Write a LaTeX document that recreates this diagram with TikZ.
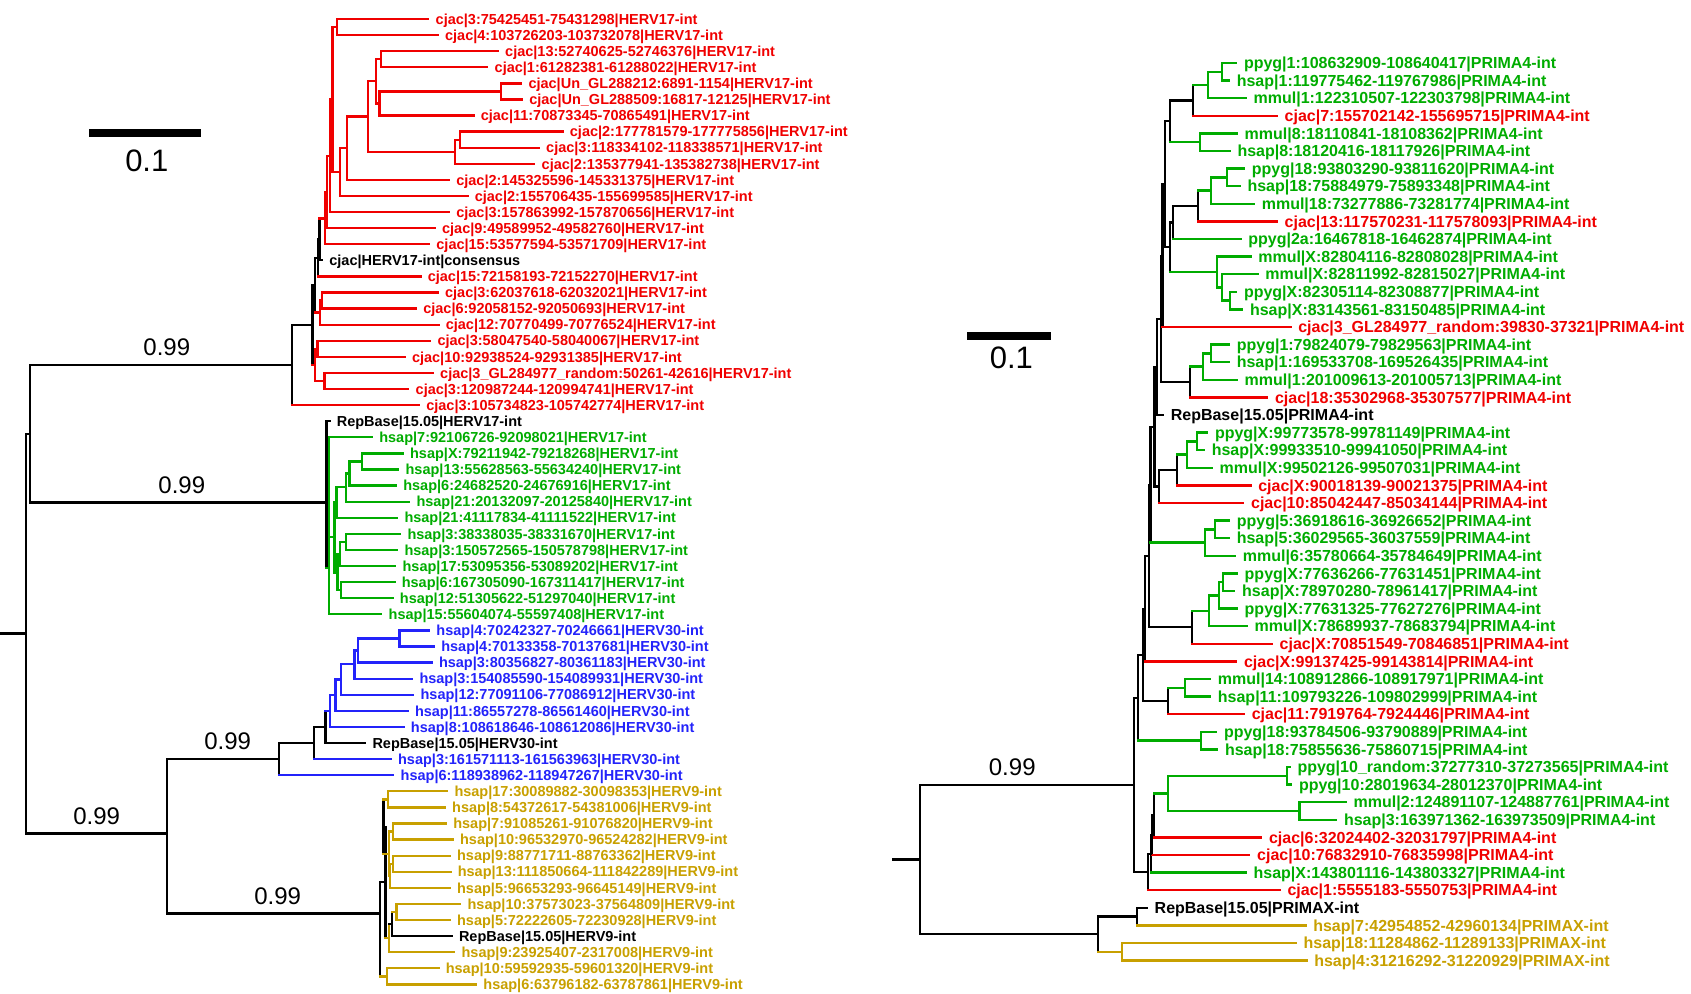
\documentclass[tikz,border=0pt]{standalone}
\usepackage{fontspec}
\setmainfont{Liberation Sans}
\definecolor{hred}{RGB}{240,0,0}
\definecolor{hgreen}{RGB}{0,172,0}
\definecolor{hblue}{RGB}{35,35,250}
\definecolor{hgold}{RGB}{200,160,0}
\tikzset{
  br/.style={line width=1.15pt,line cap=rect},
  ltip/.style={anchor=west,inner xsep=3.5pt,inner ysep=0pt,text height=5.2pt,text depth=0pt,
    font=\bfseries\fontsize{7.25}{8}\selectfont},
  rtip/.style={ltip,inner xsep=3.75pt,text height=5.76pt,font=\bfseries\fontsize{8}{9}\selectfont},
  pp/.style={font=\fontsize{12}{14}\selectfont,inner sep=0pt,anchor=south,yshift=4pt},
  scalelab/.style={font=\fontsize{15.5}{18}\selectfont,inner sep=0pt},
}
\begin{document}
\begin{tikzpicture}[x=0.5pt,y=-0.5pt]
  \useasboundingbox (0,0) rectangle (1691,994);
  % HERV17 / HERV30 / HERV9 tree, y in leaf rows
  \begin{scope}[y=-8.045pt,yshift=-1.455pt]
    \path
      (428.3, 1) node[ltip,hred]   (l1)  {cjac|3:75425451-75431298|HERV17-int}
      (437.7, 2) node[ltip,hred]   (l2)  {cjac|4:103726203-103732078|HERV17-int}
      (497.8, 3) node[ltip,hred]   (l3)  {cjac|13:52740625-52746376|HERV17-int}
      (487.3, 4) node[ltip,hred]   (l4)  {cjac|1:61282381-61288022|HERV17-int}
      (521.1, 5) node[ltip,hred]   (l5)  {cjac|Un\_GL288212:6891-1154|HERV17-int}
      (521.9, 6) node[ltip,hred]   (l6)  {cjac|Un\_GL288509:16817-12125|HERV17-int}
      (473.4, 7) node[ltip,hred]   (l7)  {cjac|11:70873345-70865491|HERV17-int}
      (562.5, 8) node[ltip,hred]   (l8)  {cjac|2:177781579-177775856|HERV17-int}
      (538.8, 9) node[ltip,hred]   (l9)  {cjac|3:118334102-118338571|HERV17-int}
      (534.3,10) node[ltip,hred]   (l10) {cjac|2:135377941-135382738|HERV17-int}
      (448.9,11) node[ltip,hred]   (l11) {cjac|2:145325596-145331375|HERV17-int}
      (467.4,12) node[ltip,hred]   (l12) {cjac|2:155706435-155699585|HERV17-int}
      (448.9,13) node[ltip,hred]   (l13) {cjac|3:157863992-157870656|HERV17-int}
      (434.7,14) node[ltip,hred]   (l14) {cjac|9:49589952-49582760|HERV17-int}
      (429.0,15) node[ltip,hred]   (l15) {cjac|15:53577594-53571709|HERV17-int}
      (322.0,16) node[ltip,black]  (l16) {cjac|HERV17-int|consensus}
      (420.4,17) node[ltip,hred]   (l17) {cjac|15:72158193-72152270|HERV17-int}
      (437.7,18) node[ltip,hred]   (l18) {cjac|3:62037618-62032021|HERV17-int}
      (415.9,19) node[ltip,hred]   (l19) {cjac|6:92058152-92050693|HERV17-int}
      (438.4,20) node[ltip,hred]   (l20) {cjac|12:70770499-70776524|HERV17-int}
      (430.1,21) node[ltip,hred]   (l21) {cjac|3:58047540-58040067|HERV17-int}
      (404.6,22) node[ltip,hred]   (l22) {cjac|10:92938524-92931385|HERV17-int}
      (432.8,23) node[ltip,hred]   (l23) {cjac|3\_GL284977\_random:50261-42616|HERV17-int}
      (408.3,24) node[ltip,hred]   (l24) {cjac|3:120987244-120994741|HERV17-int}
      (418.9,25) node[ltip,hred]   (l25) {cjac|3:105734823-105742774|HERV17-int}
      (329.4,26) node[ltip,black]  (l26) {RepBase|15.05|HERV17-int}
      (371.9,27) node[ltip,hgreen] (l27) {hsap|7:92106726-92098021|HERV17-int}
      (402.7,28) node[ltip,hgreen] (l28) {hsap|X:79211942-79218268|HERV17-int}
      (398.2,29) node[ltip,hgreen] (l29) {hsap|13:55628563-55634240|HERV17-int}
      (395.9,30) node[ltip,hgreen] (l30) {hsap|6:24682520-24676916|HERV17-int}
      (409.1,31) node[ltip,hgreen] (l31) {hsap|21:20132097-20125840|HERV17-int}
      (397.1,32) node[ltip,hgreen] (l32) {hsap|21:41117834-41111522|HERV17-int}
      (400.1,33) node[ltip,hgreen] (l33) {hsap|3:38338035-38331670|HERV17-int}
      (397.1,34) node[ltip,hgreen] (l34) {hsap|3:150572565-150578798|HERV17-int}
      (395.2,35) node[ltip,hgreen] (l35) {hsap|17:53095356-53089202|HERV17-int}
      (394.4,36) node[ltip,hgreen] (l36) {hsap|6:167305090-167311417|HERV17-int}
      (392.5,37) node[ltip,hgreen] (l37) {hsap|12:51305622-51297040|HERV17-int}
      (381.3,38) node[ltip,hgreen] (l38) {hsap|15:55604074-55597408|HERV17-int}
      (429.0,39) node[ltip,hblue]  (l39) {hsap|4:70242327-70246661|HERV30-int}
      (433.9,40) node[ltip,hblue]  (l40) {hsap|4:70133358-70137681|HERV30-int}
      (431.6,41) node[ltip,hblue]  (l41) {hsap|3:80356827-80361183|HERV30-int}
      (412.1,42) node[ltip,hblue]  (l42) {hsap|3:154085590-154089931|HERV30-int}
      (413.2,43) node[ltip,hblue]  (l43) {hsap|12:77091106-77086912|HERV30-int}
      (407.6,44) node[ltip,hblue]  (l44) {hsap|11:86557278-86561460|HERV30-int}
      (403.5,45) node[ltip,hblue]  (l45) {hsap|8:108618646-108612086|HERV30-int}
      (365.1,46) node[ltip,black]  (l46) {RepBase|15.05|HERV30-int}
      (390.7,47) node[ltip,hblue]  (l47) {hsap|3:161571113-161563963|HERV30-int}
      (393.3,48) node[ltip,hblue]  (l48) {hsap|6:118938962-118947267|HERV30-int}
      (447.1,49) node[ltip,hgold]  (l49) {hsap|17:30089882-30098353|HERV9-int}
      (444.8,50) node[ltip,hgold]  (l50) {hsap|8:54372617-54381006|HERV9-int}
      (445.9,51) node[ltip,hgold]  (l51) {hsap|7:91085261-91076820|HERV9-int}
      (452.7,52) node[ltip,hgold]  (l52) {hsap|10:96532970-96524282|HERV9-int}
      (449.7,53) node[ltip,hgold]  (l53) {hsap|9:88771711-88763362|HERV9-int}
      (450.4,54) node[ltip,hgold]  (l54) {hsap|13:111850664-111842289|HERV9-int}
      (449.7,55) node[ltip,hgold]  (l55) {hsap|5:96653293-96645149|HERV9-int}
      (460.2,56) node[ltip,hgold]  (l56) {hsap|10:37573023-37564809|HERV9-int}
      (449.7,57) node[ltip,hgold]  (l57) {hsap|5:72222605-72230928|HERV9-int}
      (451.6,58) node[ltip,black]  (l58) {RepBase|15.05|HERV9-int}
      (454.2,59) node[ltip,hgold]  (l59) {hsap|9:23925407-2317008|HERV9-int}
      (438.4,60) node[ltip,hgold]  (l60) {hsap|10:59592935-59601320|HERV9-int}
      (476.0,61) node[ltip,hgold]  (l61) {hsap|6:63796182-63787861|HERV9-int}
    ;
    \path
      (337.1, 1.5)   coordinate (a12)
      (380.8, 3.5)   coordinate (a34)
      (501.1, 5.5)   coordinate (a56)
      (379.6, 6.25)  coordinate (a57)
      (375.9, 4.875) coordinate (a37)
      (459.7, 8.5)   coordinate (a89)
      (454.8, 9.25)  coordinate (a810)
      (368.3, 7.06)  coordinate (a310)
      (346.9, 9.03)  coordinate (a311)
      (340.2,10.52)  coordinate (a312)
      (332.6, 6.0)   coordinate (a112)
      (330.0, 9.5)   coordinate (a113)
      (327.0,11.75)  coordinate (a114)
      (325.0,13.4)   coordinate (a115)
      (322.0,18.5)   coordinate (a1819)
      (319.8,19.25)  coordinate (a1820)
      (317.6,21.5)   coordinate (a2122)
      (324.4,23.5)   coordinate (a2324)
      (315.3,22.5)   coordinate (a2124)
      (319.5,14.7)   coordinate (k16)
      (318.0,15.85)  coordinate (k17)
      (315.0,17.55)  coordinate (k20)
      (312.5,20.0)   coordinate (k24)
      (292.0,22.5)   coordinate (kred)
      (326.5,31.05)  coordinate (kgreen)
      ( 30.0,26.8)   coordinate (kA)
      ( 26.0,39.2)   coordinate (kroot)
      (  0.0,39.2)   coordinate (lstub)
      (166.7,51.63)  coordinate (kB)
      (362.0,28.5)   coordinate (g2829)
      (349.5,29.25)  coordinate (g2830)
      (345.8,30.1)   coordinate (g2831)
      (336.4,31.05)  coordinate (g2832)
      (345.8,33.5)   coordinate (g3334)
      (340.2,34.25)  coordinate (g3335)
      (341.3,36.5)   coordinate (g3637)
      (337.5,35.4)   coordinate (g3337)
      (334.5,33.2)   coordinate (g2837)
      (328.9,35.1)   coordinate (g27)
      (399.5,39.5)   coordinate (b3940)
      (358.2,40.25)  coordinate (b41)
      (354.4,41.1)   coordinate (b42)
      (341.3,42.05)  coordinate (b43)
      (335.6,43.0)   coordinate (b44)
      (330.0,44.0)   coordinate (b45)
      (325.5,45.0)   coordinate (k46)
      (314.0,46.0)   coordinate (k47)
      (279.3,47.0)   coordinate (k48)
      (388.3,49.5)   coordinate (c4950)
      (392.8,51.5)   coordinate (c5152)
      (392.8,53.5)   coordinate (c5354)
      (390.2,54.25)  coordinate (c5355)
      (389.0,52.9)   coordinate (c5155)
      (396.5,56.5)   coordinate (c5657)
      (389.0,58.1)   coordinate (c59)
      (387.1,60.5)   coordinate (c6061)
      (383.4,51.2)   coordinate (k51)
      (392.0,57.25)  coordinate (k58)
      (385.5,54.65)  coordinate (k54)
      (380.0,56.6)   coordinate (k3)
    ;
  \end{scope}
  % PRIMA4 / PRIMAX tree
  \path
    (1236.1, 63.0) node[rtip,hgreen] (r1)  {ppyg|1:108632909-108640417|PRIMA4-int}
    (1228.9, 80.6) node[rtip,hgreen] (r2)  {hsap|1:119775462-119767986|PRIMA4-int}
    (1245.7, 98.2) node[rtip,hgreen] (r3)  {mmul|1:122310507-122303798|PRIMA4-int}
    (1276.8,115.8) node[rtip,hred]   (r4)  {cjac|7:155702142-155695715|PRIMA4-int}
    (1236.8,133.4) node[rtip,hgreen] (r5)  {mmul|8:18110841-18108362|PRIMA4-int}
    (1229.6,151.0) node[rtip,hgreen] (r6)  {hsap|8:18120416-18117926|PRIMA4-int}
    (1243.9,168.6) node[rtip,hgreen] (r7)  {ppyg|18:93803290-93811620|PRIMA4-int}
    (1239.6,186.2) node[rtip,hgreen] (r8)  {hsap|18:75884979-75893348|PRIMA4-int}
    (1253.9,203.8) node[rtip,hgreen] (r9)  {mmul|18:73277886-73281774|PRIMA4-int}
    (1276.8,221.4) node[rtip,hred]   (r10) {cjac|13:117570231-117578093|PRIMA4-int}
    (1240.4,239.0) node[rtip,hgreen] (r11) {ppyg|2a:16467818-16462874|PRIMA4-int}
    (1250.4,256.6) node[rtip,hgreen] (r12) {mmul|X:82804116-82808028|PRIMA4-int}
    (1257.5,274.2) node[rtip,hgreen] (r13) {mmul|X:82811992-82815027|PRIMA4-int}
    (1236.1,291.8) node[rtip,hgreen] (r14) {ppyg|X:82305114-82308877|PRIMA4-int}
    (1242.1,309.4) node[rtip,hgreen] (r15) {hsap|X:83143561-83150485|PRIMA4-int}
    (1290.4,327.0) node[rtip,hred]   (r16) {cjac|3\_GL284977\_random:39830-37321|PRIMA4-int}
    (1228.9,344.6) node[rtip,hgreen] (r17) {ppyg|1:79824079-79829563|PRIMA4-int}
    (1228.9,362.2) node[rtip,hgreen] (r18) {hsap|1:169533708-169526435|PRIMA4-int}
    (1236.8,379.8) node[rtip,hgreen] (r19) {mmul|1:201009613-201005713|PRIMA4-int}
    (1267.1,397.4) node[rtip,hred]   (r20) {cjac|18:35302968-35307577|PRIMA4-int}
    (1162.9,415.0) node[rtip,black]  (r21) {RepBase|15.05|PRIMA4-int}
    (1207.1,432.6) node[rtip,hgreen] (r22) {ppyg|X:99773578-99781149|PRIMA4-int}
    (1203.9,450.2) node[rtip,hgreen] (r23) {hsap|X:99933510-99941050|PRIMA4-int}
    (1211.8,467.8) node[rtip,hgreen] (r24) {mmul|X:99502126-99507031|PRIMA4-int}
    (1250.4,485.4) node[rtip,hred]   (r25) {cjac|X:90018139-90021375|PRIMA4-int}
    (1243.2,503.0) node[rtip,hred]   (r26) {cjac|10:85042447-85034144|PRIMA4-int}
    (1228.9,520.6) node[rtip,hgreen] (r27) {ppyg|5:36918616-36926652|PRIMA4-int}
    (1228.9,538.2) node[rtip,hgreen] (r28) {hsap|5:36029565-36037559|PRIMA4-int}
    (1235.0,555.8) node[rtip,hgreen] (r29) {mmul|6:35780664-35784649|PRIMA4-int}
    (1236.8,573.4) node[rtip,hgreen] (r30) {ppyg|X:77636266-77631451|PRIMA4-int}
    (1234.3,591.0) node[rtip,hgreen] (r31) {hsap|X:78970280-78961417|PRIMA4-int}
    (1236.8,608.6) node[rtip,hgreen] (r32) {ppyg|X:77631325-77627276|PRIMA4-int}
    (1246.8,626.2) node[rtip,hgreen] (r33) {mmul|X:78689937-78683794|PRIMA4-int}
    (1271.8,643.8) node[rtip,hred]   (r34) {cjac|X:70851549-70846851|PRIMA4-int}
    (1236.1,661.4) node[rtip,hred]   (r35) {cjac|X:99137425-99143814|PRIMA4-int}
    (1210.0,679.0) node[rtip,hgreen] (r36) {mmul|14:108912866-108917971|PRIMA4-int}
    (1210.0,696.6) node[rtip,hgreen] (r37) {hsap|11:109793226-109802999|PRIMA4-int}
    (1243.9,714.2) node[rtip,hred]   (r38) {cjac|11:7919764-7924446|PRIMA4-int}
    (1216.1,731.8) node[rtip,hgreen] (r39) {ppyg|18:93784506-93790889|PRIMA4-int}
    (1217.1,749.4) node[rtip,hgreen] (r40) {hsap|18:75855636-75860715|PRIMA4-int}
    (1289.6,767.0) node[rtip,hgreen] (r41) {ppyg|10\_random:37277310-37273565|PRIMA4-int}
    (1291.1,784.6) node[rtip,hgreen] (r42) {ppyg|10:28019634-28012370|PRIMA4-int}
    (1345.7,802.2) node[rtip,hgreen] (r43) {mmul|2:124891107-124887761|PRIMA4-int}
    (1336.1,819.8) node[rtip,hgreen] (r44) {hsap|3:163971362-163973509|PRIMA4-int}
    (1261.1,837.4) node[rtip,hred]   (r45) {cjac|6:32024402-32031797|PRIMA4-int}
    (1249.3,855.0) node[rtip,hred]   (r46) {cjac|10:76832910-76835998|PRIMA4-int}
    (1245.7,872.6) node[rtip,hgreen] (r47) {hsap|X:143801116-143803327|PRIMA4-int}
    (1279.6,890.2) node[rtip,hred]   (r48) {cjac|1:5555183-5550753|PRIMA4-int}
    (1146.8,907.8) node[rtip,black]  (r49) {RepBase|15.05|PRIMAX-int}
    (1305.4,925.4) node[rtip,hgold]  (r50) {hsap|7:42954852-42960134|PRIMAX-int}
    (1295.7,943.0) node[rtip,hgold]  (r51) {hsap|18:11284862-11289133|PRIMAX-int}
    (1306.4,960.6) node[rtip,hgold]  (r52) {hsap|4:31216292-31220929|PRIMAX-int}
  ;
  \path
    (1221.7, 71.8) coordinate (p12)
    (1208.3, 85.0) coordinate (p13)
    (1193.3,100.4) coordinate (p14)
    (1200.0,142.2) coordinate (p56)
    (1170.0,121.3) coordinate (p16)
    (1227.3,177.4) coordinate (p78)
    (1210.7,190.6) coordinate (p79)
    (1198.3,206.0) coordinate (p710)
    (1173.3,222.5) coordinate (p711)
    (1230.0,300.6) coordinate (p1415)
    (1221.7,287.4) coordinate (p1315)
    (1216.7,272.0) coordinate (p1215)
    (1170.0,247.3) coordinate (p715)
    (1165.0,184.3) coordinate (p115)
    (1162.5,255.7) coordinate (p116)
    (1210.7,353.4) coordinate (p1718)
    (1203.3,366.6) coordinate (p1719)
    (1190.0,382.0) coordinate (p1720)
    (1161.0,318.9) coordinate (p120)
    (1157.0,367.0) coordinate (p121)
    (1197.3,441.4) coordinate (p2223)
    (1187.3,454.6) coordinate (p2224)
    (1177.3,470.0) coordinate (p2225)
    (1159.3,486.5) coordinate (p2226)
    (1154.5,426.8) coordinate (p126)
    (1215.0,529.4) coordinate (p2728)
    (1205.0,542.6) coordinate (p2729)
    (1150.5,484.7) coordinate (p129)
    (1223.3,582.2) coordinate (p3031)
    (1219.3,595.4) coordinate (p3032)
    (1209.3,610.8) coordinate (p3033)
    (1192.3,627.3) coordinate (p3034)
    (1149.0,556.0) coordinate (p134)
    (1145.0,608.7) coordinate (p135)
    (1185.0,687.8) coordinate (p3637)
    (1168.3,701.0) coordinate (p3638)
    (1143.3,654.9) coordinate (p138)
    (1200.7,740.6) coordinate (p3940)
    (1138.3,697.8) coordinate (p140)
    (1287.3,775.8) coordinate (p4142)
    (1299.5,811.0) coordinate (p4344)
    (1168.3,793.4) coordinate (p4144)
    (1154.0,815.4) coordinate (p145)
    (1151.7,835.2) coordinate (p146)
    (1150.7,853.9) coordinate (p147)
    (1148.3,872.0) coordinate (p148)
    (1134.0,784.9) coordinate (pa)
    (1137.3,916.6) coordinate (p4950)
    (1121.7,951.8) coordinate (p5152)
    (1098.0,934.2) coordinate (pb)
    ( 920.0,859.6) coordinate (proot)
    ( 893.3,859.6) coordinate (rstub)
  ;
  % vertical bars of the clades
  \foreach \p/\t/\b in {a12/l1/l2,a34/l3/l4,a56/l5/l6,a57/a56/l7,a37/a34/a57,a89/l8/l9,a810/a89/l10,
      a310/a37/a810,a311/a310/l11,a312/a311/l12,a112/a12/a312,a113/a112/l13,a114/a113/l14,a115/a114/l15,
      a1819/l18/l19,a1820/a1819/l20,a2122/l21/l22,a2324/l23/l24,a2124/a2122/a2324}
    \draw[br,hred] (\p |- \t) -- (\p |- \b);
  \foreach \p/\t/\b in {g27/l27/l38,g2829/l28/l29,g2830/g2829/l30,g2831/g2830/l31,g2832/g2831/l32,
      g3334/l33/l34,g3335/g3334/l35,g3637/l36/l37,g3337/g3335/g3637,g2837/g2832/g3337,
      p12/r1/r2,p13/p12/r3,p56/r5/r6,p78/r7/r8,p79/p78/r9,p1415/r14/r15,p1315/r13/p1415,p1215/r12/p1315,
      p1718/r17/r18,p1719/p1718/r19,p2223/r22/r23,p2224/p2223/r24,p2728/r27/r28,p2729/p2728/r29,
      p3031/r30/r31,p3032/p3031/r32,p3033/p3032/r33,p3637/r36/r37,p3940/r39/r40,p4142/r41/r42,
      p4344/r43/r44,p4144/p4142/p4344}
    \draw[br,hgreen] (\p |- \t) -- (\p |- \b);
  \foreach \p/\t/\b in {b3940/l39/l40,b41/b3940/l41,b42/b41/l42,b43/b42/l43,b44/b43/l44,b45/b44/l45}
    \draw[br,hblue] (\p |- \t) -- (\p |- \b);
  \foreach \p/\t/\b in {c4950/l49/l50,c5152/l51/l52,c5354/l53/l54,c5355/c5354/l55,c5155/c5152/c5355,
      c5657/l56/l57,c59/k58/l59,c6061/l60/l61,p5152/r51/r52}
    \draw[br,hgold] (\p |- \t) -- (\p |- \b);
  \foreach \p/\t/\b in {k16/a115/l16,k17/k16/l17,k20/k17/a1820,k24/k20/a2124,kred/k24/l25,kgreen/l26/g27,
      kA/kred/kgreen,k46/b45/l46,k47/k46/l47,k48/k47/l48,k51/c4950/c5155,k58/c5657/l58,k54/k51/c59,
      k3/k54/c6061,kB/k48/k3,kroot/kA/kB,
      p14/p13/r4,p16/p14/p56,p710/p79/r10,p711/p710/r11,p715/p711/p1215,p115/p16/p715,p116/p115/r16,
      p1720/p1719/r20,p120/p116/p1720,p121/p120/r21,p2225/p2224/r25,p2226/p2225/r26,p126/p121/p2226,
      p129/p126/p2729,p3034/p3033/r34,p134/p129/p3034,p135/p134/r35,p3638/p3637/r38,p138/p135/p3638,
      p140/p138/p3940,p145/p4144/r45,p146/p145/r46,p147/p146/r47,p148/p147/r48,pa/p140/p148,
      p4950/r49/r50,pb/p4950/p5152,proot/pa/pb}
    \draw[br,black] (\p |- \t) -- (\p |- \b);
  % branches
  \foreach \p/\c in {a12/l1,a12/l2,a34/l3,a34/l4,a56/l5,a56/l6,a57/a56,a57/l7,a37/a34,a37/a57,a89/l8,a89/l9,
      a810/a89,a810/l10,a310/a37,a310/a810,a311/a310,a311/l11,a312/a311,a312/l12,a112/a12,a112/a312,
      a113/a112,a113/l13,a114/a113,a114/l14,a115/a114,a115/l15,k16/a115,k17/l17,a1819/l18,a1819/l19,
      a1820/a1819,a1820/l20,k20/a1820,a2122/l21,a2122/l22,a2324/l23,a2324/l24,a2124/a2122,a2124/a2324,
      k24/a2124,kred/l25,
      p14/r4,p710/r10,p116/r16,p1720/r20,p2225/r25,p2226/r26,p3034/r34,p135/r35,p3638/r38,p145/r45,
      p146/r46,p148/r48}
    \draw[br,hred] (\p |- \c) -- (\c);
  \foreach \p/\c in {kgreen/g27,g27/l27,g27/g2837,g27/l38,g2829/l28,g2829/l29,g2830/g2829,g2830/l30,
      g2831/g2830,g2831/l31,g2832/g2831,g2832/l32,g3334/l33,g3334/l34,g3335/g3334,g3335/l35,g3637/l36,
      g3637/l37,g3337/g3335,g3337/g3637,g2837/g2832,g2837/g3337,
      p12/r1,p12/r2,p13/p12,p13/r3,p14/p13,p56/r5,p56/r6,p16/p56,p78/r7,p78/r8,p79/p78,p79/r9,p710/p79,
      p711/r11,p1415/r14,p1415/r15,p1315/r13,p1315/p1415,p1215/r12,p1215/p1315,p715/p1215,p1718/r17,
      p1718/r18,p1719/p1718,p1719/r19,p1720/p1719,p2223/r22,p2223/r23,p2224/p2223,p2224/r24,p2225/p2224,
      p2728/r27,p2728/r28,p2729/p2728,p2729/r29,p129/p2729,p3031/r30,p3031/r31,p3032/p3031,p3032/r32,
      p3033/p3032,p3033/r33,p3034/p3033,p3637/r36,p3637/r37,p3638/p3637,p3940/r39,p3940/r40,p140/p3940,
      p4142/r41,p4142/r42,p4344/r43,p4344/r44,p4144/p4142,p4144/p4344,p145/p4144,p147/r47}
    \draw[br,hgreen] (\p |- \c) -- (\c);
  \foreach \p/\c in {b3940/l39,b3940/l40,b41/b3940,b41/l41,b42/b41,b42/l42,b43/b42,b43/l43,b44/b43,
      b44/l44,b45/b44,b45/l45,k46/b45,k47/l47,k48/l48}
    \draw[br,hblue] (\p |- \c) -- (\c);
  \foreach \p/\c in {c4950/l49,c4950/l50,c5152/l51,c5152/l52,c5354/l53,c5354/l54,c5355/c5354,c5355/l55,
      c5155/c5152,c5155/c5355,k51/c4950,k51/c5155,c5657/l56,c5657/l57,k58/c5657,c59/l59,k54/c59,
      c6061/l60,c6061/l61,k3/c6061,
      p4950/r50,p5152/r51,p5152/r52,pb/p5152}
    \draw[br,hgold] (\p |- \c) -- (\c);
  \foreach \p/\c in {k16/l16,k17/k16,k20/k17,k24/k20,kred/k24,kgreen/l26,k46/l46,k47/k46,k48/k47,
      k58/l58,c59/k58,k54/k51,k3/k54,kroot/kA,
      p16/p14,p711/p710,p715/p711,p115/p16,p115/p715,p116/p115,p120/p116,p120/p1720,p121/p120,
      p121/r21,p2226/p2225,p126/p121,p126/p2226,p129/p126,p134/p129,p134/p3034,p135/p134,p138/p135,
      p138/p3638,p140/p138,p146/p145,p147/p146,p148/p147,pa/p140,pa/p148,p4950/r49,pb/p4950,proot/pb}
    \draw[br,black] (\p |- \c) -- (\c);
  \draw[br] (lstub) -- (kroot);
  \draw[br] (rstub) -- (proot);
  \draw[br] (kA |- kred)     -- node[pp,pos=.522] (ppred)   {0.99} (kred);
  \draw[br] (kA |- kgreen)   -- node[pp,pos=.512] (ppgreen) {0.99} (kgreen);
  \draw[br] (kroot |- kB)    -- node[pp,pos=.502] (pplow)   {0.99} (kB);
  \draw[br] (kB |- k48)      -- node[pp,pos=.542] (ppblue)  {0.99} (k48);
  \draw[br] (kB |- k3)       -- node[pp,pos=.520] (ppgold)  {0.99} (k3);
  \draw[br] (proot |- pa)    -- node[pp,pos=.431] (ppprima) {0.99} (pa);
  % scale bars
  \fill (89,129.3) rectangle (200.5,136.7);
  \node[scalelab] (sbleft) at (146.8,161.3) {0.1};
  \fill (967.4,332.3) rectangle (1050.5,340);
  \node[scalelab] (sbright) at (1011.4,358.3) {0.1};
\end{tikzpicture}
\end{document}
